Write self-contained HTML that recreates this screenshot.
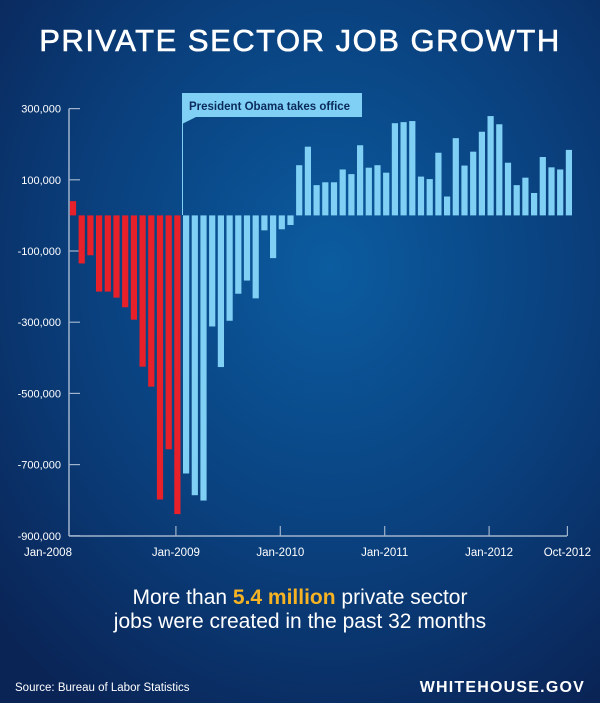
<!DOCTYPE html>
<html><head><meta charset="utf-8"><style>
html,body{margin:0;padding:0;width:600px;height:703px;overflow:hidden;background:#0a2b5c}
svg{display:block}
text{font-family:"Liberation Sans",sans-serif}
</style></head><body>
<svg id="chart" width="600" height="703" viewBox="0 0 600 703">
<defs>
<radialGradient id="bg" cx="0.55" cy="0.38" r="0.75">
<stop offset="0" stop-color="#0b5ca0"/>
<stop offset="0.55" stop-color="#0a3f7c"/>
<stop offset="1" stop-color="#0a2456"/>
</radialGradient>
</defs>
<rect x="0" y="0" width="600" height="703" fill="url(#bg)"/>
<text x="300" y="51" text-anchor="middle" fill="#fff" font-size="31" stroke="#fff" stroke-width="0.6" letter-spacing="1.5">PRIVATE SECTOR JOB GROWTH</text>
<g id="axes"></g>
<g id="bars"></g>
<g>
<line x1="182.5" y1="117" x2="182.5" y2="215" stroke="#7fd0f4" stroke-width="1"/>
<polygon points="182,93 362,93 362,117 196,117 182,124" fill="#7fd0f4"/>
<text x="189" y="110" fill="#0b2a5c" font-size="11.5" font-weight="bold">President Obama takes office</text>
</g>
<text x="300" y="604" text-anchor="middle" fill="#fff" font-size="21">More than <tspan fill="#f5b324" font-weight="bold">5.4 million</tspan> private sector</text>
<text x="300" y="628" text-anchor="middle" fill="#fff" font-size="21">jobs were created in the past 32 months</text>
<text x="15" y="691" fill="#fff" font-size="11.5">Source: Bureau of Labor Statistics</text>
<text x="585" y="692" text-anchor="end" fill="#fff" font-size="16" font-weight="bold" letter-spacing="1.2">WHITEHOUSE.GOV</text>
</svg>
<script>
const values = [40,-135,-112,-214,-214,-231,-258,-293,-425,-481,-798,-657,-839,
 -725,-786,-801,-312,-426,-296,-220,-183,-233,-42,-120,-39,-27,
 141,193,85,93,93,129,116,197,134,141,120,259,262,265,109,102,176,53,217,140,179,235,279,256,148,85,106,63,164,135,129,184];
const obamaStartIndex = 13;
const yTicks = [300,100,-100,-300,-500,-700,-900];
const yTickLabels = ["300,000","100,000","-100,000","-300,000","-500,000","-700,000","-900,000"];
const xTickIndex = [0,12,24,36,48,57];
const xTickLabels = ["Jan-2008","Jan-2009","Jan-2010","Jan-2011","Jan-2012","Oct-2012"];

const NS="http://www.w3.org/2000/svg";
const x0=73, step=8.7, bw=6.2;
function xPos(i){return x0+i*step;}
function yPos(v){return 215.4 - v*0.356;}
function mk(tag,attrs,parent){const e=document.createElementNS(NS,tag);for(const k in attrs)e.setAttribute(k,attrs[k]);parent.appendChild(e);return e;}
const axes=document.getElementById('axes'), bars=document.getElementById('bars');
const axL=69, axB=536, axR=567;
const ya=mk('line',{x1:axL,y1:yPos(300),x2:axL,y2:axB,stroke:'#9fb3cc','stroke-width':1.5},axes);


const xa=mk('line',{x1:axL,y1:axB,x2:axR,y2:axB,stroke:'#9fb3cc','stroke-width':1.5},axes);


yTicks.forEach((v,i)=>{
  const y=yPos(v);
  const t=mk('line',{x1:axL,y1:y,x2:axL+11,y2:y,stroke:'#9fb3cc','stroke-width':1.2},axes);
  
  
  const l=mk('text',{x:axL-8,y:y+4,'text-anchor':'end',fill:'#fff','font-size':11},axes);
  l.textContent=yTickLabels[i];
  
  
});
xTickIndex.forEach((idx,i)=>{
  const x=idx===0?axL:xPos(idx)-1.5;
  if(idx!==0){
    const t=mk('line',{x1:x,y1:axB,x2:x,y2:axB-10,stroke:'#9fb3cc','stroke-width':1.2},axes);
    
    
  }
  const l=mk('text',{x:idx===0?48:x,y:axB+20,'text-anchor':'middle',fill:'#fff','font-size':11.5},axes);
  l.textContent=xTickLabels[i];
  
  
});
values.forEach((v,i)=>{
  const y0=yPos(0), y1=yPos(v);
  const r=mk('rect',{x:xPos(i)-bw/2,y:Math.min(y0,y1),width:bw,height:Math.abs(y1-y0),fill:i<obamaStartIndex?'#e8202a':'#7fd0f4'},bars);
  
  
});
</script>
</body></html>
